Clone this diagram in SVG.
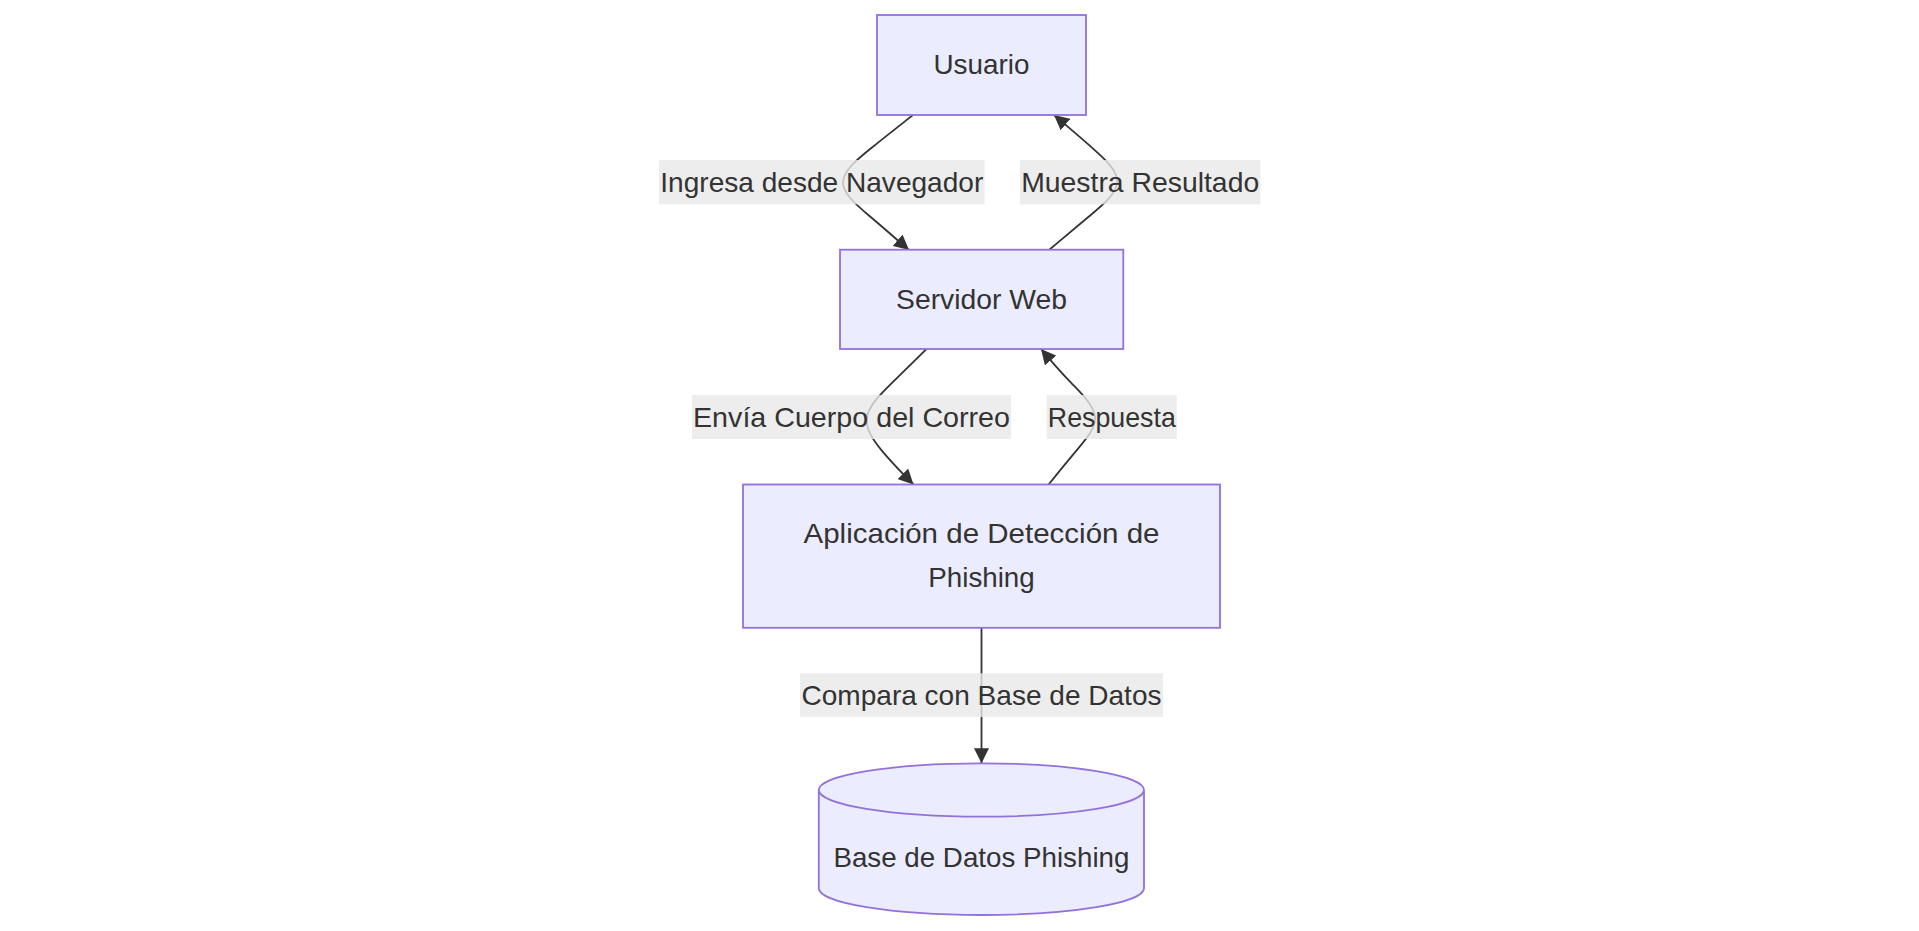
<svg xmlns="http://www.w3.org/2000/svg" width="1919" height="931" viewBox="0 0 1919 931">
<style>
.node-shape{fill:#ECECFF;stroke:#9370DB;stroke-width:1.8}
.lbl{font-family:"Liberation Sans",Arial,sans-serif;font-size:28px;fill:#333333;text-anchor:middle}
.edge{fill:none;stroke:#333333;stroke-width:1.8}
.lbg{fill:#e8e8e8;opacity:0.8}
</style>
<defs>
<marker id="arrow" viewBox="0 0 10 10" refX="10" refY="5" markerUnits="userSpaceOnUse" markerWidth="15" markerHeight="15" orient="auto">
<path d="M0,0 L10,5 L0,10 z" fill="#333333"/>
</marker>
</defs>
<rect width="1919" height="931" fill="#ffffff"/>
<g id="connectors">
<path class="edge" marker-end="url(#arrow)" d="M913,115 L905.8,120.6 C898.7,126.3 884.3,137.5 870.4,148.8 C856.5,160 843,171.3 843,182.5 C843,193.8 856.5,205 869.8,216.3 C883,227.5 896,238.8 902.5,244.4 L909,250"/>
<path class="edge" marker-end="url(#arrow)" d="M1049,250 L1055.7,244.4 C1062.3,238.8 1075.7,227.5 1089.2,216.3 C1102.7,205 1116.3,193.8 1117.2,182.5 C1118,171.3 1106,160 1093.3,148.8 C1080.7,137.5 1067.3,126.3 1060.7,120.6 L1054,115"/>
<path class="edge" marker-end="url(#arrow)" d="M926.5,349 L920.8,354.7 C915,360.3 903.5,371.6 892,382.9 C880.5,394.2 869,405.5 867,416.8 C865,428 872.5,439.3 881.8,450.6 C891.2,461.9 902.3,473.2 907.9,478.9 L913.5,484.5"/>
<path class="edge" marker-end="url(#arrow)" d="M1048.6,484.5 L1053.2,478.9 C1057.7,473.2 1066.9,461.9 1076.4,450.6 C1086,439.3 1096,428 1095,416.8 C1094,405.5 1082,394.2 1071.2,382.9 C1060.3,371.6 1050.7,360.3 1045.8,354.7 L1041,349"/>
<path class="edge" marker-end="url(#arrow)" d="M981.5,628 L981.5,763.3"/>
</g>
<g id="edge-labels">
<g id="label-ingresa">
<rect class="lbg" x="659" y="160" width="325.6" height="44.3"/>
<text class="lbl" x="821.8" y="191.5" textLength="323" lengthAdjust="spacingAndGlyphs">Ingresa desde Navegador</text>
</g>
<g id="label-muestra">
<rect class="lbg" x="1020" y="160" width="240.4" height="44.3"/>
<text class="lbl" x="1140.2" y="191.5" textLength="238" lengthAdjust="spacingAndGlyphs">Muestra Resultado</text>
</g>
<g id="label-envia">
<rect class="lbg" x="692" y="395" width="319" height="44"/>
<text class="lbl" x="851.5" y="426.5" textLength="317" lengthAdjust="spacingAndGlyphs">Envía Cuerpo del Correo</text>
</g>
<g id="label-respuesta">
<rect class="lbg" x="1046.8" y="395" width="130" height="44"/>
<text class="lbl" x="1111.8" y="426.5" textLength="128" lengthAdjust="spacingAndGlyphs">Respuesta</text>
</g>
<g id="label-compara">
<rect class="lbg" x="800" y="673.3" width="363" height="43.7"/>
<text class="lbl" x="981.5" y="704.5" textLength="360" lengthAdjust="spacingAndGlyphs">Compara con Base de Datos</text>
</g>
</g>
<g id="node-usuario">
<rect class="node-shape" x="877" y="15" width="209" height="100"/>
<text class="lbl" x="981.5" y="73.5" textLength="96" lengthAdjust="spacingAndGlyphs">Usuario</text>
</g>
<g id="node-servidor">
<rect class="node-shape" x="840" y="249.7" width="283.3" height="99.3"/>
<text class="lbl" x="981.5" y="308.5" textLength="171" lengthAdjust="spacingAndGlyphs">Servidor Web</text>
</g>
<g id="node-aplicacion">
<rect class="node-shape" x="743" y="484.5" width="477" height="143.3"/>
<text class="lbl" x="981.5" y="543" textLength="356" lengthAdjust="spacingAndGlyphs">Aplicación de Detección de</text>
<text class="lbl" x="981.5" y="587" textLength="106.5" lengthAdjust="spacingAndGlyphs">Phishing</text>
</g>
<g id="node-basedatos">
<path class="node-shape" d="M818.8,790 a162.6,26.7 0 0,0 325.2,0 a162.6,26.7 0 0,0 -325.2,0 l0,98.3 a162.6,26.7 0 0,0 325.2,0 l0,-98.3"/>
<text class="lbl" x="981.4" y="866.7" textLength="296" lengthAdjust="spacingAndGlyphs">Base de Datos Phishing</text>
</g>
</svg>
